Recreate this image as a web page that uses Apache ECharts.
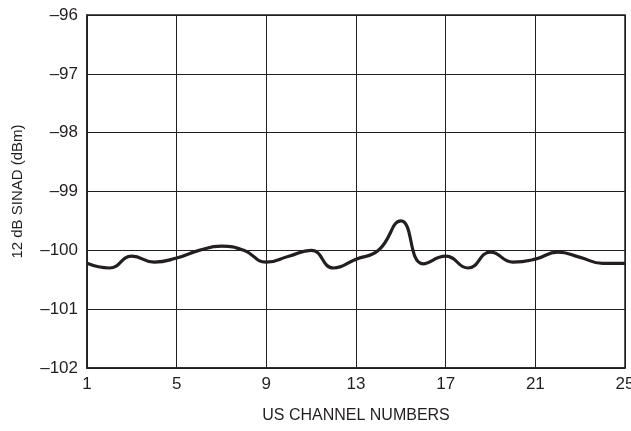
<!DOCTYPE html>
<html><head><meta charset="utf-8">
<script src="https://cdn.jsdelivr.net/npm/echarts@6/dist/echarts.min.js"></script>
<style>html,body{margin:0;padding:0;background:#fff}#c{width:631px;height:431px}</style>
</head><body><div id="c"></div>
<script>
const channels = ['1','2','3','4','5','6','7','8','9','10','11','12','13','14','15','16','17','18','19','20','21','22','23','24','25'];
const sinad = [-100.22,-100.3,-100.1,-100.2,-100.13,-100.0,-99.93,-100.0,-100.2,-100.1,-100.0,-100.3,-100.15,-100.0,-99.5,-100.23,-100.1,-100.3,-100.03,-100.2,-100.15,-100.03,-100.12,-100.22,-100.22];
const yTicks = [-102,-101,-100,-99,-98,-97,-96];
const font = '"Liberation Sans Narrow","Arial Narrow","Liberation Sans",sans-serif';
const chart = echarts.init(document.getElementById('c'), null, {renderer:'canvas'});
chart.setOption({
  animation:false,
  backgroundColor:'#fff',
  grid:{left:87,right:6,top:15,bottom:63,show:true,borderColor:'#231f20',borderWidth:1.5,containLabel:false,outerBoundsMode:'none'},
  xAxis:{
    type:'category', data:channels, boundaryGap:false,
    name:'US CHANNEL NUMBERS', nameLocation:'middle', nameGap:40,
    nameTextStyle:{fontFamily:font,fontSize:16,color:'#231f20'},
    axisLine:{show:true,lineStyle:{color:'#231f20',width:1.5}},
    axisTick:{show:false},
    axisLabel:{interval:3,fontFamily:font,fontSize:17,color:'#231f20',margin:8,hideOverlap:false},
    splitLine:{show:true,interval:3,lineStyle:{color:'#231f20',width:1}}
  },
  yAxis:{
    type:'value', min:yTicks[0], max:yTicks[yTicks.length-1], interval:1,
    name:'12 dB SINAD (dBm)', nameLocation:'middle', nameGap:62, nameRotate:90,
    nameTextStyle:{fontFamily:font,fontSize:15,color:'#231f20'},
    axisLine:{show:true,lineStyle:{color:'#231f20',width:1.5}},
    axisTick:{show:false},
    axisLabel:{fontFamily:font,fontSize:17,color:'#231f20',margin:9,
      formatter:v=>String(v).replace('-','\u2013')},
    splitLine:{show:true,lineStyle:{color:'#231f20',width:1}}
  },
  series:[{type:'line',data:sinad,smooth:0.5,symbol:'none',
    lineStyle:{color:'#231f20',width:3.2}}]
});
</script></body></html>
